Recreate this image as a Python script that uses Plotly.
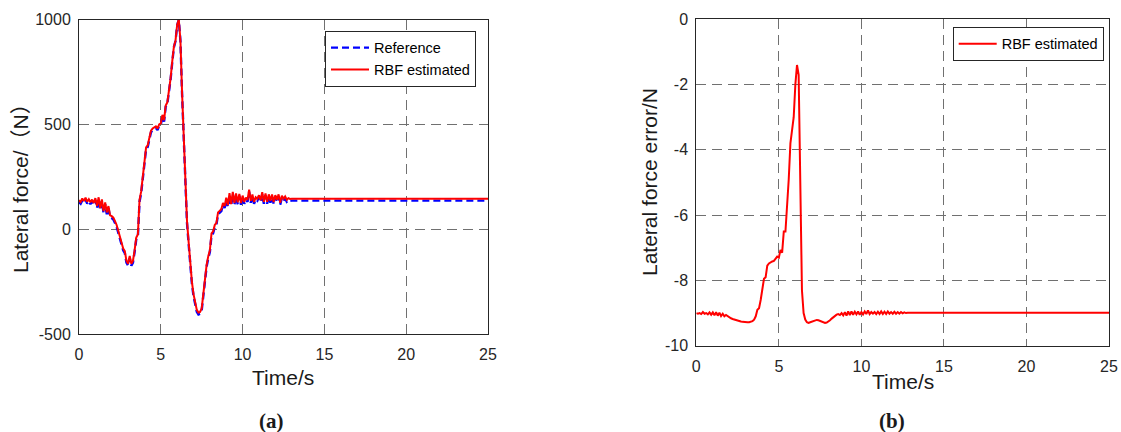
import plotly.graph_objects as go

# ---------------- data ----------------
time_s = [0.0, 0.1, 0.2, 0.3, 0.4, 0.5, 0.6, 0.7, 0.8, 0.9,
          1.0, 1.1, 1.2, 1.3, 1.4, 1.5, 1.6, 1.7, 1.8, 1.9,
          2.0, 2.1, 2.2, 2.3, 2.4, 2.5, 2.6, 2.7, 2.8, 2.9,
          3.0, 3.1, 3.2, 3.3, 3.4, 3.5, 3.6, 3.7, 3.8, 3.9,
          4.0, 4.1, 4.2, 4.3, 4.4, 4.5, 4.6, 4.7, 4.8, 4.9,
          5.0, 5.1, 5.2, 5.3, 5.4, 5.5, 5.6, 5.7, 5.8, 5.9,
          6.0, 6.1, 6.2, 6.3, 6.4, 6.5, 6.6, 6.7, 6.8, 6.9,
          7.0, 7.1, 7.2, 7.3, 7.4, 7.5, 7.6, 7.7, 7.8, 7.9,
          8.0, 8.1, 8.2, 8.3, 8.4, 8.5, 8.6, 8.7, 8.8, 8.9,
          9.0, 9.1, 9.2, 9.3, 9.4, 9.5, 9.6, 9.7, 9.8, 9.9,
          10.0, 10.1, 10.2, 10.3, 10.4, 10.5, 10.6, 10.7, 10.8, 10.9,
          11.0, 11.1, 11.2, 11.3, 11.4, 11.5, 11.6, 11.7, 11.8, 11.9,
          12.0, 12.1, 12.2, 12.3, 12.4, 12.5, 12.6, 12.7, 12.8, 12.9,
          13.0, 25.0]

reference_force = [129, 121, 137, 125, 141, 122, 134, 119, 132, 116,
                   139, 101, 143, 91, 133, 77, 119, 71, 101, 57,
                   53, 46, 29, 11, -17, -49, -84, -101, -114, -159,
                   -174, -137, -174, -159, -109, -49, -34, 131, 171, 251,
                   322, 382, 392, 432, 462, 473, 478, 483, 473, 493,
                   498, 538, 513, 584, 599, 654, 715, 796, 867, 897,
                   973, 999, 898, 645, 452, 241, 31, -69, -179, -259,
                   -319, -359, -394, -407, -404, -387, -309, -234, -179, -139,
                   -109, -29, -19, 11, 21, 71, 81, 86, 116, 101,
                   141, 106, 163, 111, 169, 116, 161, 119, 159, 116,
                   151, 121, 141, 131, 179, 126, 156, 121, 143, 136,
                   153, 129, 167, 121, 161, 121, 157, 126, 156, 121,
                   153, 131, 157, 117, 151, 136, 147, 131, 139, 135,
                   136, 136]

rbf_force = [138, 130, 146, 134, 150, 131, 143, 128, 141, 125,
             148, 110, 152, 100, 142, 86, 128, 80, 110, 66,
             62, 55, 38, 20, -8, -40, -75, -92, -105, -150,
             -165, -128, -165, -150, -100, -40, -25, 140, 180, 260,
             330, 390, 400, 440, 470, 480, 485, 490, 480, 500,
             505, 545, 520, 590, 605, 660, 720, 800, 870, 900,
             975, 1000, 900, 650, 460, 250, 40, -60, -170, -250,
             -310, -350, -385, -398, -395, -378, -300, -225, -170, -130,
             -100, -20, -10, 20, 30, 80, 90, 95, 125, 110,
             150, 115, 172, 120, 178, 125, 170, 128, 168, 125,
             160, 130, 150, 140, 188, 135, 165, 130, 152, 145,
             162, 138, 176, 130, 170, 130, 166, 135, 165, 130,
             162, 140, 166, 126, 160, 145, 156, 140, 148, 144,
             145, 145]

force_error = [-9.00, -9.02, -9.00, -9.03, -8.97, -9.02, -9.00, -9.04, -8.98, -9.05,
               -8.98, -9.07, -8.97, -9.08, -8.99, -9.09, -9.02, -9.10, -9.06, -9.10,
               -9.13, -9.16, -9.18, -9.20, -9.22, -9.24, -9.25, -9.26, -9.27, -9.28,
               -9.28, -9.28, -9.28, -9.27, -9.25, -9.20, -9.10, -8.90, -8.85, -8.60,
               -8.25, -7.95, -7.90, -7.55, -7.48, -7.44, -7.42, -7.40, -7.35, -7.27,
               -7.30, -7.07, -7.15, -6.50, -6.50, -5.80, -4.90, -3.80, -3.35, -3.00,
               -2.00, -1.40, -1.70, -5.50, -8.30, -9.00, -9.20, -9.28, -9.30, -9.28,
               -9.26, -9.24, -9.22, -9.21, -9.22, -9.24, -9.27, -9.29, -9.30, -9.29,
               -9.26, -9.22, -9.17, -9.12, -9.08, -9.05, -9.03, -9.06, -9.00, -9.07,
               -8.97, -9.08, -8.95, -9.06, -8.95, -9.05, -8.96, -9.04, -8.95, -9.05,
               -8.97, -9.04, -8.95, -9.03, -8.92, -9.03, -8.97, -9.02, -8.97, -9.03,
               -8.96, -9.03, -8.95, -9.03, -8.96, -9.03, -8.95, -9.02, -8.97, -9.02,
               -8.96, -9.02, -8.97, -9.02, -8.97, -9.01, -8.98, -9.00, -8.99, -8.99,
               -8.99, -8.99]

x_ticks = [0, 5, 10, 15, 20, 25]
x_tick_text = ["0", "5", "10", "15", "20", "25"]
ya_ticks = [-500, 0, 500, 1000]
ya_tick_text = ["-500", "0", "500", "1000"]
yb_ticks = [-10, -8, -6, -4, -2, 0]
yb_tick_text = ["-10", "-8", "-6", "-4", "-2", "0"]

# ---------------- figure ----------------
W, H = 1121, 432
FONT = "Liberation Sans, Arial, Noto Sans CJK SC, sans-serif"
SERIF = "Liberation Serif, Times New Roman, serif"
AX = "#262626"
GRID = "#707070"

fig = go.Figure()
fig.add_trace(go.Scatter(x=time_s, y=reference_force, mode="lines", name="Reference",
                         line=dict(color="#0000ff", width=2.4, dash="7px,4px"),
                         xaxis="x", yaxis="y", legend="legend"))
fig.add_trace(go.Scatter(x=time_s, y=rbf_force, mode="lines", name="RBF estimated",
                         line=dict(color="#ff0000", width=2),
                         xaxis="x", yaxis="y", legend="legend"))
fig.add_trace(go.Scatter(x=time_s, y=force_error, mode="lines", name="RBF estimated",
                         line=dict(color="#ff0000", width=2),
                         xaxis="x2", yaxis="y2", legend="legend2"))


def px_x(p):
    return p / W


def px_y(p):
    return 1 - p / H


common_axis = dict(showline=True, linecolor=AX, linewidth=1, mirror=True,
                   showgrid=True, gridcolor=GRID, gridwidth=1, griddash="10px,6px",
                   zeroline=False, ticks="", automargin=False,
                   tickfont=dict(family=FONT, size=16, color=AX))

legend_common = dict(xanchor="left", yanchor="top", bordercolor=AX, borderwidth=1,
                     bgcolor="white", font=dict(family=FONT, size=14.5, color="#000000"),
                     tracegroupgap=0, itemwidth=38)

fig.update_layout(
    template="none",
    width=W, height=H, margin=dict(l=0, r=0, t=0, b=0, autoexpand=False),
    paper_bgcolor="white", plot_bgcolor="white",
    xaxis=dict(domain=[px_x(79), px_x(488)], anchor="y", range=[0, 25],
               tickvals=x_ticks, ticktext=x_tick_text, ticklabelstandoff=6, **common_axis),
    yaxis=dict(domain=[px_y(334), px_y(19.5)], anchor="x", range=[-500, 1000],
               tickvals=ya_ticks, ticktext=ya_tick_text, ticklabelstandoff=4, **common_axis),
    xaxis2=dict(domain=[px_x(696.3), px_x(1109)], anchor="y2", range=[0, 25],
                tickvals=x_ticks, ticktext=x_tick_text, ticklabelstandoff=6, **common_axis),
    yaxis2=dict(domain=[px_y(345.7), px_y(19.3)], anchor="x2", range=[-10, 0],
                tickvals=yb_ticks, ticktext=yb_tick_text, ticklabelstandoff=4, **common_axis),
    legend=dict(x=px_x(325), y=px_y(30.7), **legend_common),
    legend2=dict(x=px_x(952.7), y=px_y(26.7), **legend_common),
    showlegend=True,
)

annots = [
    ("Lateral force/（N）", 20, 183, -90, 21, FONT),
    ("Lateral force error/N", 649, 182, -90, 21, FONT),
    ("Time/s", 283, 377, 0, 21, FONT),
    ("Time/s", 902.5, 381, 0, 21, FONT),
    ("<b>(a)</b>", 271.7, 421, 0, 21, SERIF),
    ("<b>(b)</b>", 891.7, 421, 0, 21, SERIF),
]
for text, ax_, ay_, ang, size, fam in annots:
    fig.add_annotation(text=text, x=px_x(ax_), y=px_y(ay_), xref="paper", yref="paper",
                       xanchor="center", yanchor="middle", showarrow=False,
                       textangle=ang, font=dict(family=fam, size=size, color="#1a1a1a"))

fig.write_html("out.html")
